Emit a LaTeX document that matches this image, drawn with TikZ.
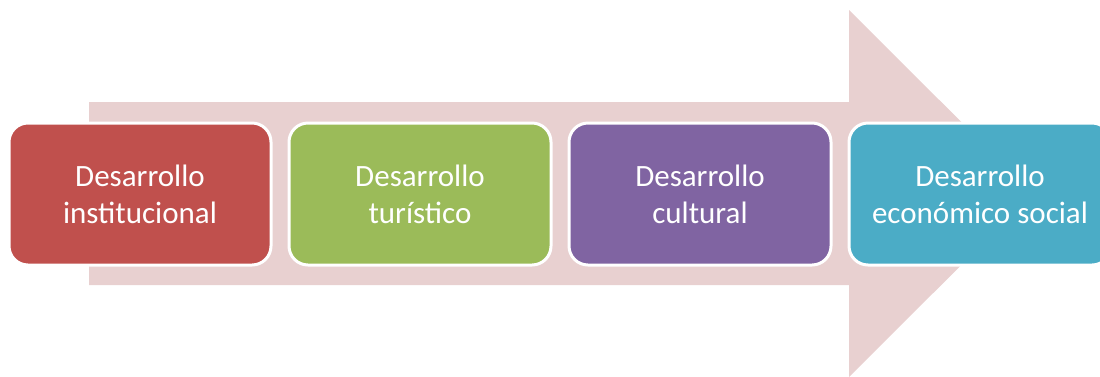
\documentclass[tikz,border=0pt]{standalone}
\usepackage{fontspec}
\setmainfont{Carlito}
\definecolor{arrowpink}{RGB}{232,208,208}
\definecolor{cred}{RGB}{192,80,77}
\definecolor{cgreen}{RGB}{155,187,89}
\definecolor{cpurple}{RGB}{128,100,162}
\definecolor{caqua}{RGB}{75,172,198}
\begin{document}
\begin{tikzpicture}[x=1pt,y=-1pt,
  stagebox/.style={draw=white, line width=3pt, rounded corners=19pt,
    minimum width=262pt, minimum height=142pt, align=center, inner sep=0pt,
    text=white, font=\fontsize{31}{37}\selectfont}]
\useasboundingbox (0,0) rectangle (1100,376);
\clip (0,0) rectangle (1100,376);
\fill[arrowpink] (89,102) -- (849,102) -- (849,10) -- (1033,193.5) -- (849,377)
  -- (849,285) -- (89,285) -- cycle;
\node[stagebox, fill=cred]    (b1) at (140,194) {Desarrollo\\institucional};
\node[stagebox, fill=cgreen]  (b2) at (420,194) {Desarrollo\\turístico};
\node[stagebox, fill=cpurple] (b3) at (700,194) {Desarrollo\\cultural};
\node[stagebox, fill=caqua]   (b4) at (980,194) {Desarrollo\\económico social};
\end{tikzpicture}
\end{document}
